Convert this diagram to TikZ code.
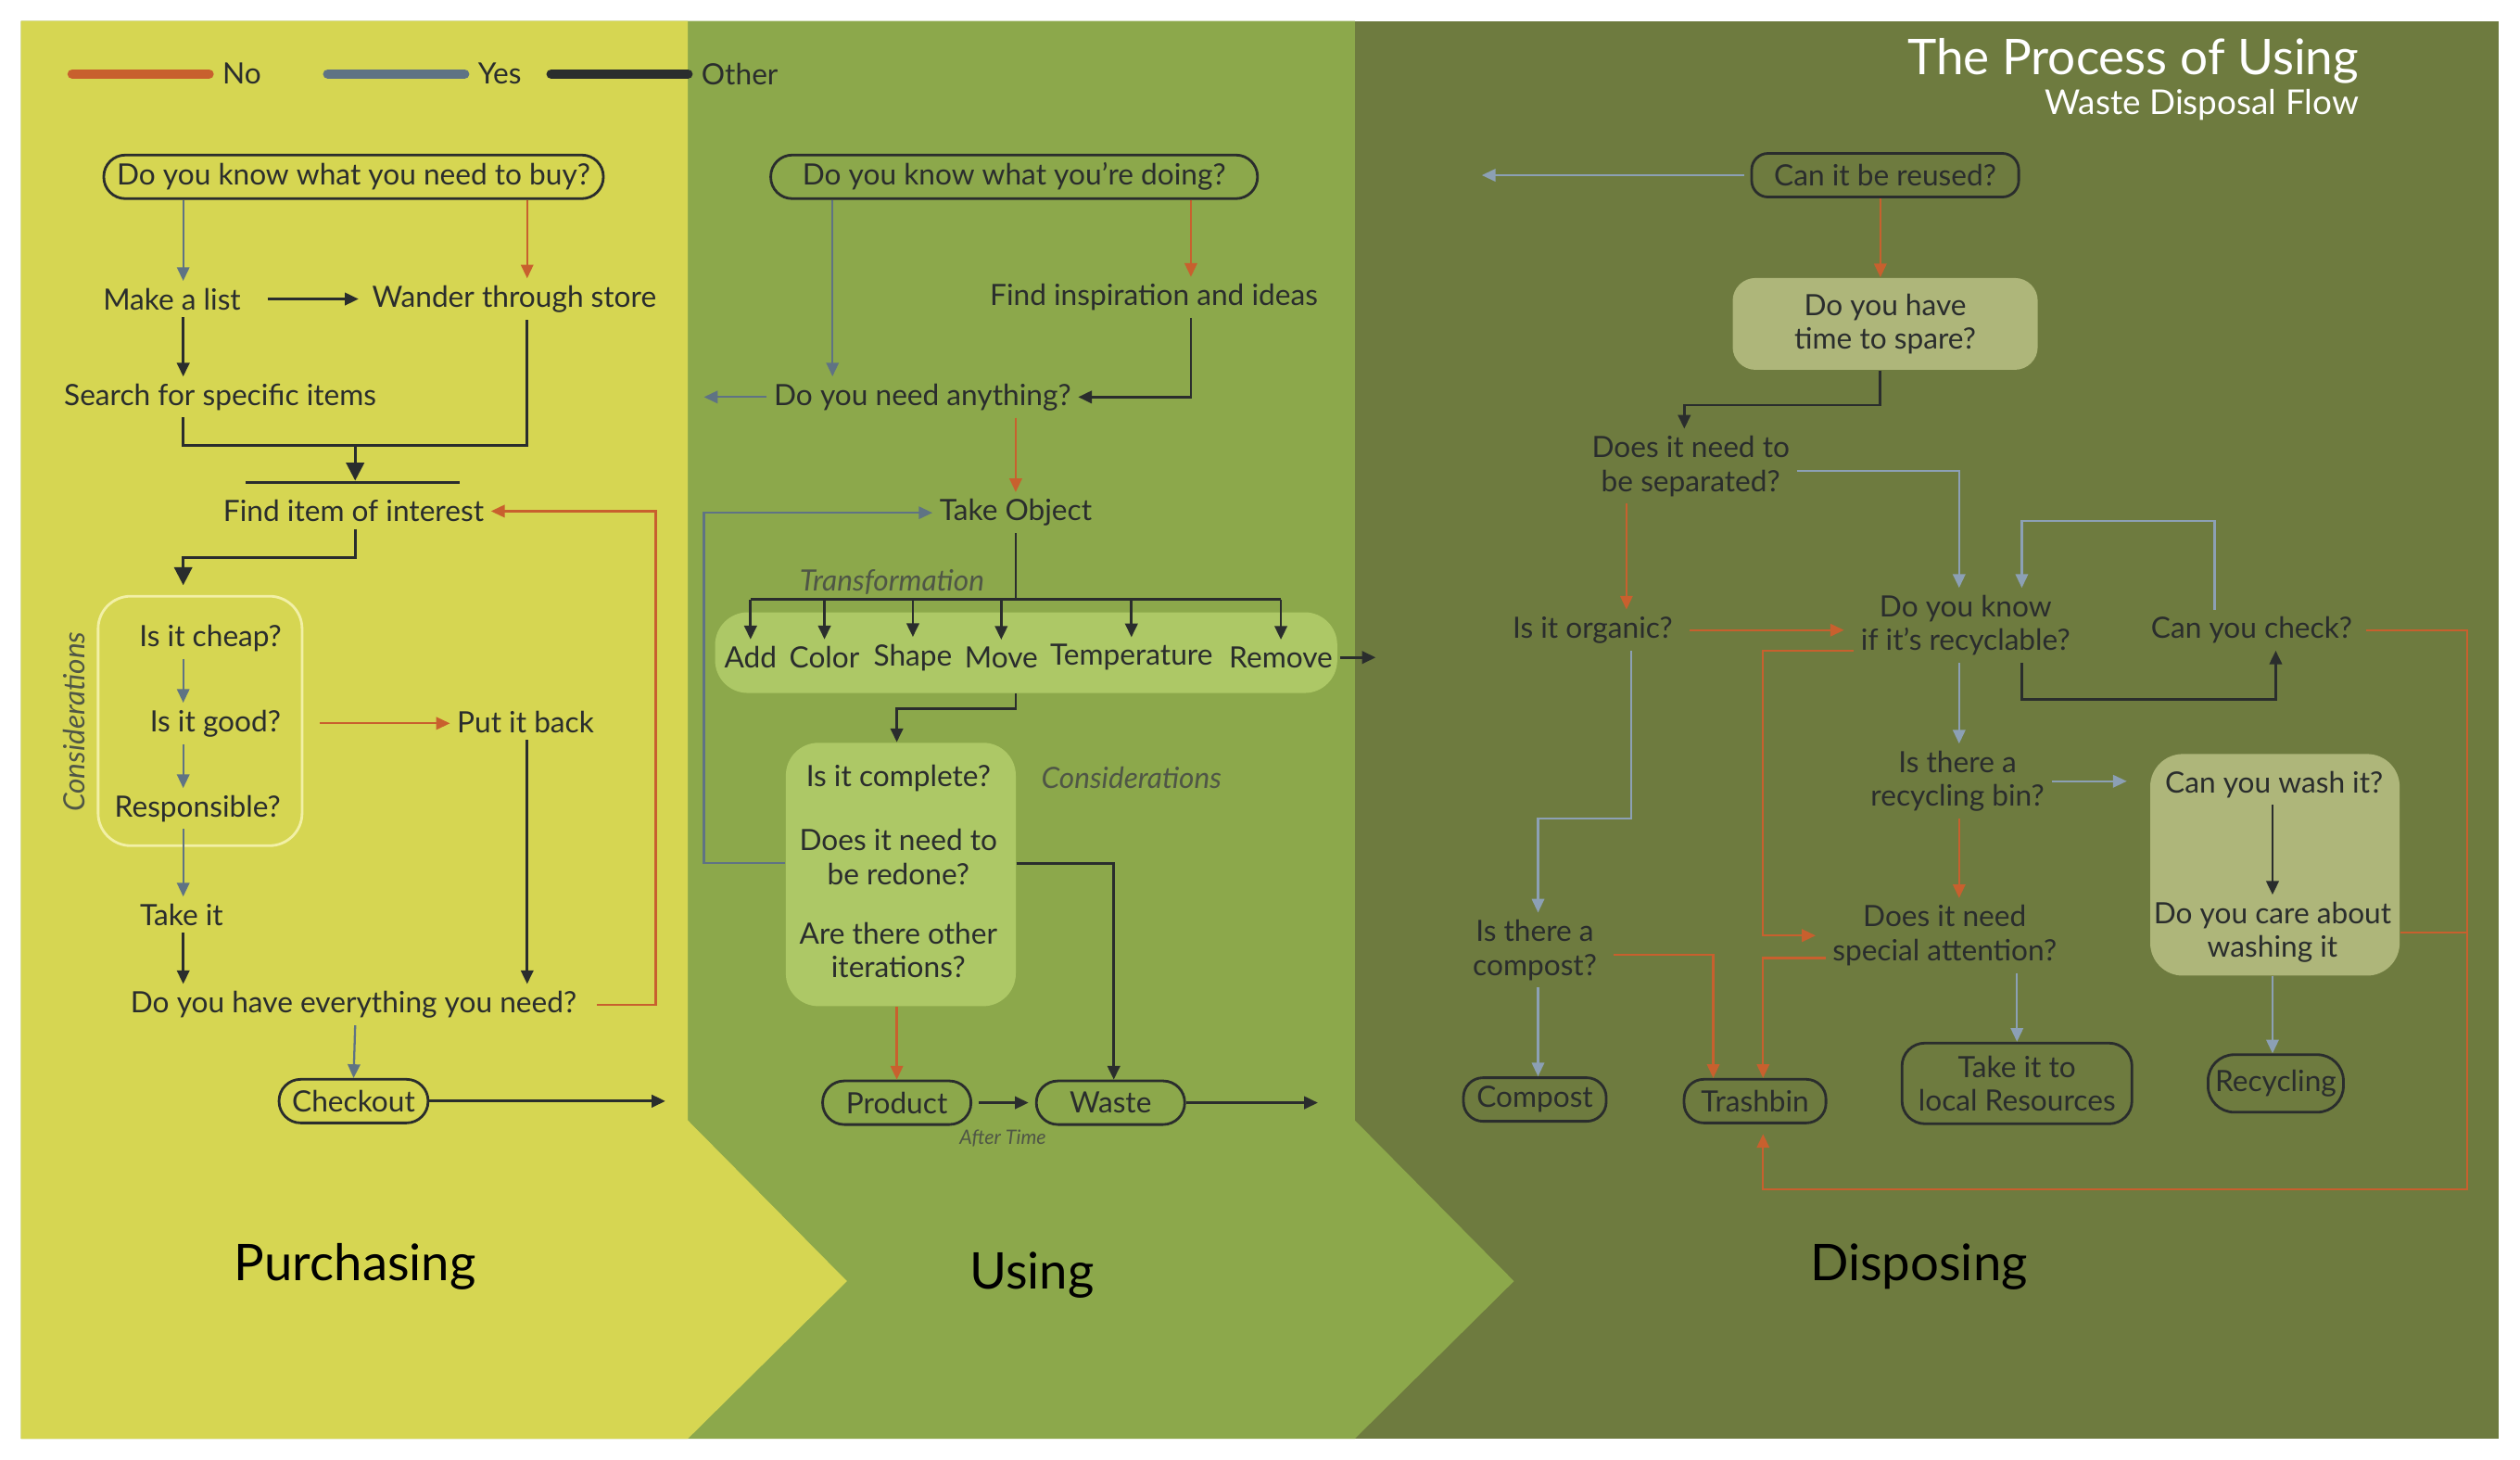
\documentclass[tikz,border=0pt]{standalone}
\usepackage{fontspec}
\setmainfont{Lato}
\usetikzlibrary{arrows.meta}
\usepackage{xcolor}

\definecolor{purchase}{HTML}{D6D652}
\definecolor{use}{HTML}{8CA84B}
\definecolor{dispose}{HTML}{6E7B3F}
\definecolor{usebox}{HTML}{ADC866}
\definecolor{disposebox}{HTML}{AEB67A}
\definecolor{conline}{HTML}{F2F0A6}
\definecolor{nocol}{HTML}{C8602E}
\definecolor{yescol}{HTML}{5F7384}
\definecolor{yeslight}{HTML}{8CA0B5}
\definecolor{ink}{HTML}{2A2D2D}
\definecolor{note}{HTML}{4F5646}

\tikzset{
  every question/.style={font=\fontsize{9.0}{10.4}\selectfont, text=ink, align=center, inner sep=2pt},
  end pill/.style={every question, draw=ink, line width=0.8pt, rounded corners=6.6pt, minimum height=0.47cm, inner xsep=4pt},
  soft box/.style={rounded corners=10pt, inner sep=0pt},
  side note/.style={font=\fontsize{9.0}{10.4}\selectfont\itshape, text=note, inner sep=0pt},
  phase/.style={font=\fontsize{15.5}{18}\selectfont, text=black},
  no line/.style={draw=nocol, line width=0.65pt},
  yes line/.style={draw=yescol, line width=0.65pt},
  other line/.style={draw=ink, line width=0.8pt},
  big tip/.style={-{Triangle[width=5.5pt,length=5.5pt]}},
}

\begin{document}
\begin{tikzpicture}[x=0.01734cm, y=-0.01734cm, >={Triangle[width=3.8pt,length=4.2pt]}]

\useasboundingbox (0,0) rectangle (1568,908);
\fill [white] (0,0) rectangle (1568,908);

% the three phases
\fill [dispose] (13,13) rectangle (1555,895);
\fill [use] (13,13) -- (843,13) -- (843,697) -- (942,797) -- (843,895) -- (13,895) -- cycle;
\fill [purchase] (13,13) -- (428,13) -- (428,697) -- (527,797) -- (428,895) -- (13,895) -- cycle;

\foreach \t/\x/\y in {Purchasing/221/788, Using/642/793, Disposing/1194/788}
  \node [phase] (phase-\t) at (\x,\y) {\t};

% legend
\foreach \c/\t/\x in {nocol/No/45, yescol/Yes/204, ink/Other/343} {
  \draw [\c, line width=3pt, line cap=round] (\x,46) -- ++(85,0) coordinate (key-\t);
  \node [every question, anchor=west] (legend-\t) at ([xshift=2pt]key-\t) {\t};
}

\node [anchor=east, text=white, inner sep=0pt, font=\fontsize{15.1}{18}\selectfont] (title) at (1468,38) {The Process of Using};
\node [anchor=east, text=white, inner sep=0pt, font=\fontsize{10.5}{13}\selectfont] (subtitle) at (1468,65) {Waste Disposal Flow};

%%% Purchasing
\node [end pill, minimum width=5.36cm] (buy) at (220,110) {Do you know what you need to buy?};
\node [every question] (list) at (107,186) {Make a list};
\node [every question] (wander) at (320,186) {Wander through store};
\node [every question] (search) at (137,247) {Search for specific items};
\node [every question] (interest) at (220,318) {Find item of interest};

\node [soft box, draw=conline, line width=0.8pt, minimum width=2.2cm, minimum height=2.69cm] (p-consider) at (124.5,448.5) {};
\node [side note, rotate=90] (p-consider-label) at (46,449) {Considerations};
\node [every question] (cheap) at (131,397) {Is it cheap?};
\node [every question] (good) at (134,450) {Is it good?};
\node [every question] (resp) at (123,503) {Responsible?};
\node [every question] (back) at (327,449) {Put it back};
\node [every question] (take) at (113,569) {Take it};
\node [every question] (all) at (220,625) {Do you have everything you need?};
\node [end pill, minimum width=1.58cm] (checkout) at (220,685) {Checkout};

\draw [yes line, ->] (114,0 |- buy.south) -- (114,0 |- list.north);
\draw [no line, ->] (328,0 |- buy.south) -- (328,0 |- wander.north);
\draw [other line, ->, shorten <=6pt, shorten >=2pt] (list.east) -- (wander.west);
\draw [other line, ->] (114,0 |- list.south) -- (114,0 |- search.north);
\draw [other line] (114,0 |- search.south) -- (114,277) -| (328,0 |- wander.south);
\draw [other line, big tip] (221,277) coordinate (p-join) -- (221,299);
\draw [other line] (153,300) -- (286,300);
\draw [other line, big tip, shorten >=3pt] (221,0 |- interest.south) -- (221,347) -| (114,0 |- p-consider.north);

\draw [yes line, ->] (114,0 |- cheap.south) -- (114,0 |- good.north);
\draw [yes line, ->] (114,0 |- good.south) -- (114,0 |- resp.north);
\draw [no line, ->, shorten <=5pt] (p-consider.east |- good.center) -- (back.west |- good.center);
\draw [yes line, ->] (114,0 |- resp.south) -- (114,0 |- take.north);
\draw [other line, ->] (114,0 |- take.south) -- (114,0 |- all.north);
\draw [other line, ->] (328,0 |- back.south) -- (328,0 |- all.north);
\draw [no line, ->, shorten <=4pt] (all.east) -- (408,0 |- all.east) |- (interest.east);
\draw [yes line, ->] (221,0 |- all.south) -- (checkout.north);
\draw [other line, ->] (checkout.east) -- (414,0 |- checkout.east) coordinate (p-exit);

%%% Using
\node [end pill, minimum width=5.25cm] (doing) at (631,110) {Do you know what you’re doing?};
\node [every question] (inspire) at (718,185) {Find inspiration and ideas};
\node [every question] (need) at (574,247) {Do you need anything?};
\node [every question] (object) at (632,319) {Take Object};
\node [side note] (trans-label) at (555,362) {Transformation};
\node [soft box, fill=usebox, minimum width=6.71cm, minimum height=0.87cm] (u-trans) at (638.5,406) {};
\foreach \w/\x [count=\i] in {Add/467, Color/513, Shape/568, Move/623, Temperature/704, Remove/797}
  \node [every question] (trans-\i) at (\x,409) {\w};

\node [soft box, fill=usebox, minimum width=2.48cm, minimum height=2.84cm] (u-consider) at (560.5,544) {};
\node [every question] (complete) at (559,484) {Is it complete?};
\node [every question] (redone) at (559,533) {Does it need to\\be redone?};
\node [every question] (iter) at (559,591) {Are there other\\iterations?};
\node [side note] (u-consider-label) at (704,484) {Considerations};
\node [end pill, minimum width=1.6cm] (product) at (558,686) {Product};
\node [end pill, minimum width=1.6cm] (waste) at (691,686) {Waste};
\node [side note, font=\fontsize{6.1}{7}\selectfont\itshape] (after) at (624,708) {After Time};

\draw [yes line, ->] (518,0 |- doing.south) -- (518,0 |- need.north);
\draw [no line, ->] (741,0 |- doing.south) -- (741,0 |- inspire.north);
\draw [other line, ->] (741,0 |- inspire.south) |- (need.east);
\draw [yes line, ->] (need.west) -- (438,0 |- need.west) coordinate (u-back);
\draw [no line, ->] (632,0 |- need.south) -- (object.north);
\draw [yes line, ->] (u-consider.west |- 0,537) -- (438,537) |- (object.west);
\draw [other line] (object.south) -- (632,373);
\draw [other line] (trans-1.north |- 0,373) -- (trans-6.north |- 0,373);
\foreach \i in {1,...,6}
  \draw [other line, ->] (trans-\i.north |- 0,373) -- (trans-\i.north);
\draw [other line, ->] (trans-6.east) -- (856,0 |- trans-6.east) coordinate (u-exit-trans);
\draw [other line, ->] (632,0 |- u-trans.south) -- (632,441) -| (558,0 |- u-consider.north);
\draw [other line, ->] (u-consider.east |- 0,537) -- (693,537) -- (693,0 |- waste.north);
\draw [no line, ->] (558,0 |- u-consider.south) -- (product.north);
\draw [other line, ->, shorten <=2pt, shorten >=2pt] (product.east) -- (waste.west);
\draw [other line, ->] (waste.east) -- (820,0 |- waste.east) coordinate (u-exit);

%%% Disposing
\node [end pill, rounded corners=5pt, minimum width=2.88cm] (reuse) at (1173,109) {Can it be reused?};
\node [soft box, fill=disposebox, rounded corners=7pt, minimum width=3.29cm, minimum height=0.99cm, every question] (d-time) at (1173,201.5) {Do you have\\time to spare?};
\node [every question] (sep) at (1052,290) {Does it need to\\be separated?};
\node [every question] (organic) at (991,392) {Is it organic?};
\node [every question] (know) at (1223,389) {Do you know\\if it’s recyclable?};
\node [every question] (check) at (1401,392) {Can you check?};
\node [every question] (bin) at (1218,486) {Is there a\\recycling bin?};
\node [soft box, fill=disposebox, minimum width=2.69cm, minimum height=2.39cm] (d-wash) at (1415.5,538) {};
\node [every question] (wash) at (1415,488) {Can you wash it?};
\node [every question] (care) at (1414,580) {Do you care about\\washing it};
\node [every question] (special) at (1210,582) {Does it need\\special attention?};
\node [every question] (compostq) at (955,591) {Is there a\\compost?};
\node [end pill, rounded corners=6pt, minimum width=1.54cm] (compost) at (955,684) {Compost};
\node [end pill, rounded corners=6pt, minimum width=1.53cm] (trash) at (1092,685) {Trashbin};
\node [end pill, rounded corners=7pt, minimum width=2.48cm, minimum height=0.87cm] (local) at (1255,674) {Take it to\\local Resources};
\node [end pill, rounded corners=8pt, minimum width=1.46cm, minimum height=0.62cm, inner xsep=1pt] (recycling) at (1416,674) {Recycling};

\draw [yes line, draw=yeslight, ->, shorten <=2pt] (reuse.west) -- (922,0 |- reuse.west) coordinate (d-back);
\draw [no line, ->] (1170,0 |- reuse.south) -- (1170,0 |- d-time.north);
\draw [other line, ->] (1170,0 |- d-time.south) -- (1170,252) -| (1048,0 |- sep.north);
\draw [yes line, draw=yeslight, ->] (sep.east |- 0,293) -- (1219,293) -- (1219,0 |- know.north);
\draw [no line, ->] (1012,0 |- sep.south) -- (1012,0 |- organic.north);
\draw [no line, ->, shorten <=3pt, shorten >=3pt] (organic.east) -- (know.west |- organic.east);
\draw [yes line, draw=yeslight, ->] (1378,0 |- check.north) -- (1378,324) -| (1258,0 |- know.north);
\draw [other line, ->] (1258,0 |- know.south) -- (1258,435) -| (1416,0 |- check.south);
\draw [yes line, draw=yeslight, ->] (1219,0 |- know.south) -- (1219,0 |- bin.north);
\draw [yes line, draw=yeslight, ->, shorten >=7pt] (bin.east) -- (d-wash.west |- bin.east);
\draw [other line, ->] (1414,0 |- wash.south) -- (1414,0 |- care.north);
\draw [no line, ->] (1219,0 |- bin.south) -- (1219,0 |- special.north);
\draw [no line, ->, shorten >=3pt] (know.west |- 0,405) -- (1097,405) |- (special.west |- 0,582);
\draw [no line, ->] (special.west |- 0,596) -- (1097,596) -- (1097,0 |- trash.north);
\draw [no line, ->, shorten <=3pt] (compostq.east |- 0,594) -- (1066,594) -- (1066,0 |- trash.north);
\draw [yes line, draw=yeslight, ->] (1015,0 |- organic.south) -- (1015,509) -| (957,0 |- compostq.north);
\draw [yes line, draw=yeslight, ->] (957,0 |- compostq.south) -- (957,0 |- compost.north);
\draw [yes line, draw=yeslight, ->] (1255,0 |- special.south) -- (local.north);
\draw [yes line, draw=yeslight, ->] (1414,0 |- d-wash.south) -- (1414,0 |- recycling.north);
\draw [no line, ->, shorten <=2pt, shorten >=3pt] (check.east) -- (1535,0 |- check.east) -- (1535,740) -| (1097,0 |- trash.south);
\draw [no line] (d-wash.east |- care.center) -- (1535,0 |- care.center);

\end{tikzpicture}
\end{document}
